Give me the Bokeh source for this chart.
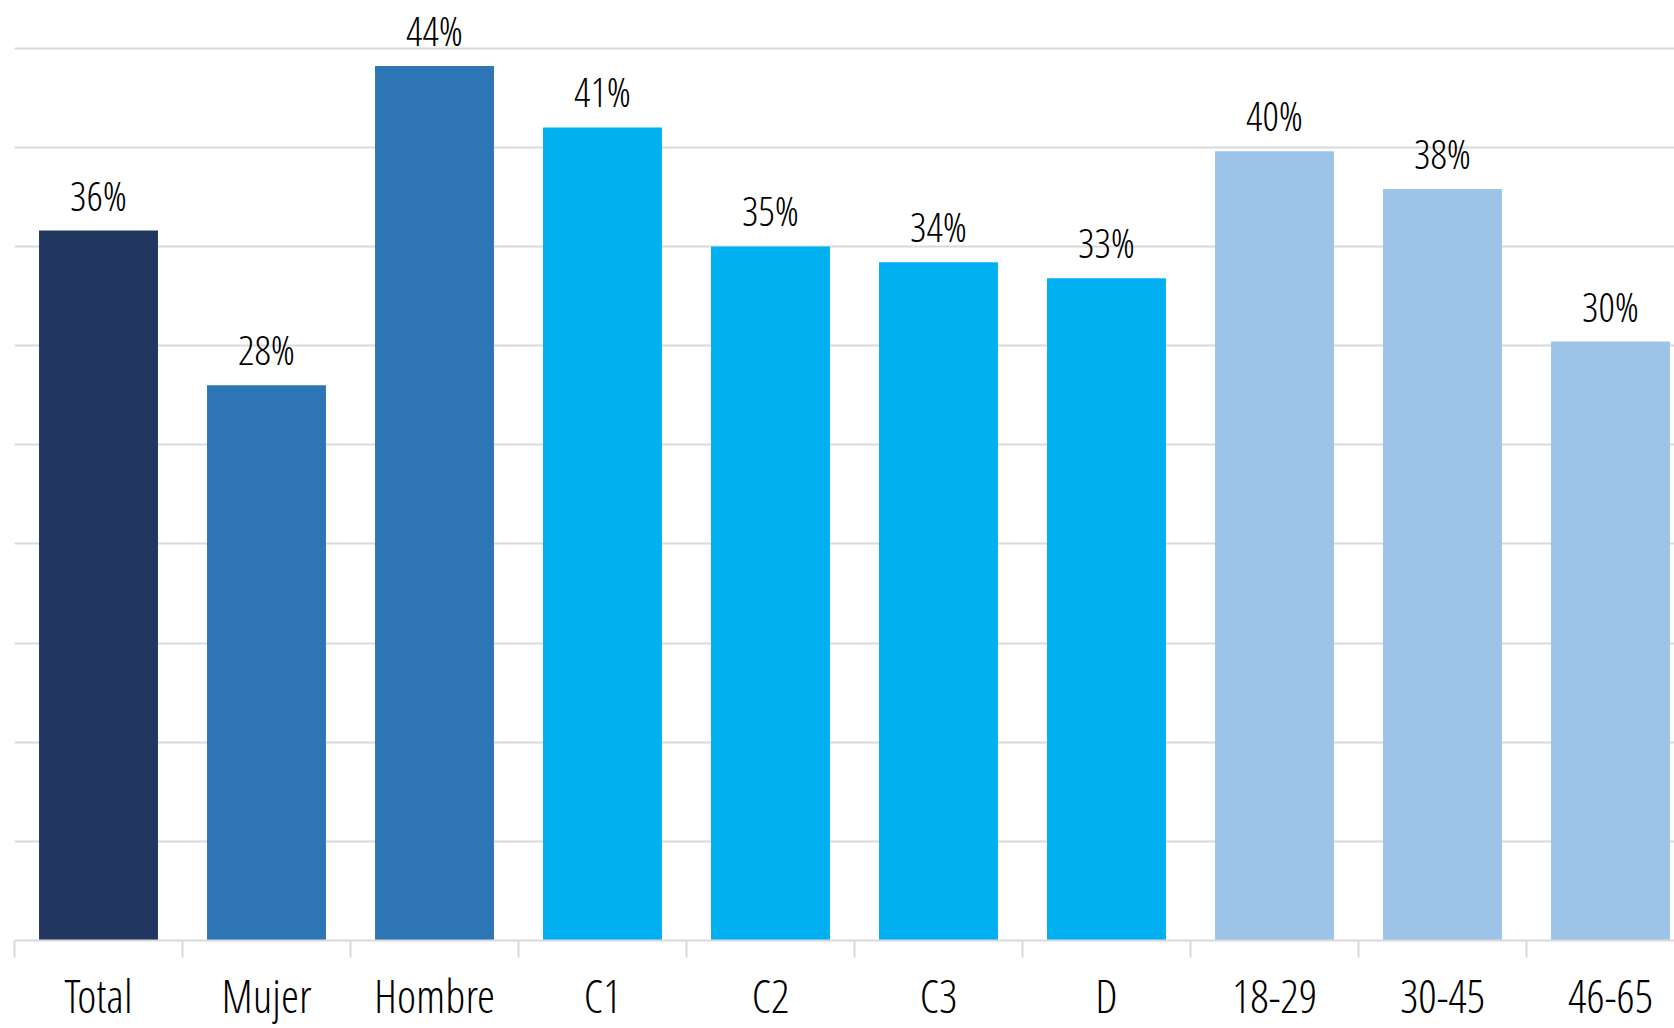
import numpy as np
from bokeh.plotting import figure
from bokeh.models import ColumnDataSource, Range1d, FixedTicker, LabelSet, LinearAxis, Grid
from bokeh.core.properties import value
from bokeh.embed import file_html
from bokeh.resources import INLINE

categories = ["Total", "Mujer", "Hombre", "C1", "C2", "C3", "D", "18-29", "30-45", "46-65"]
values = [35.8, 28.0, 44.1, 41.0, 35.0, 34.2, 33.4, 39.8, 37.9, 30.2]
labels = [f"{round(v)}%" for v in values]
colors = ["#21375F", "#2E75B6", "#2E75B6", "#00B0F0", "#00B0F0", "#00B0F0", "#00B0F0",
          "#9DC3E6", "#9DC3E6", "#9DC3E6"]
grid_ticks = [0, 5, 10, 15, 20, 25, 30, 35, 40, 45]

FONT = "'Open Sans Condensed Light', 'Roboto Condensed Light', sans-serif"

n = len(categories)
centers = list(np.arange(n) + 0.5)
bounds = list(range(n + 1))

src = ColumnDataSource(dict(x=centers, top=values, label=labels, color=colors))

W, H = 1674, 1028
p = figure(width=W, height=H, output_backend="svg", toolbar_location=None,
           x_range=Range1d(0, 9.881), y_range=Range1d(0, 47.4),
           x_axis_type=None, y_axis_type=None,
           min_border_left=14, min_border_right=0, min_border_top=0, min_border_bottom=86)
p.outline_line_color = None
p.background_fill_color = "white"
p.border_fill_color = "white"

grid = Grid(dimension=1, ticker=FixedTicker(ticks=grid_ticks),
            grid_line_color="#D9D9D9", grid_line_width=2)
p.add_layout(grid)

p.vbar(x="x", top="top", width=0.708, bottom=0, color="color", source=src, line_color=None)

xaxis = LinearAxis(ticker=FixedTicker(ticks=centers, minor_ticks=bounds))
xaxis.major_label_overrides = {c: cat for c, cat in zip(centers, categories)}
xaxis.major_tick_out = 0
xaxis.major_tick_in = 0
xaxis.minor_tick_out = 17
xaxis.minor_tick_in = 0
xaxis.minor_tick_line_color = "#D9D9D9"
xaxis.minor_tick_line_width = 2
xaxis.axis_line_color = "#D9D9D9"
xaxis.axis_line_width = 2
xaxis.major_label_text_font = FONT
xaxis.major_label_text_font_size = "46px"
xaxis.major_label_text_color = "#000000"
xaxis.major_label_standoff = 6
p.add_layout(xaxis, "below")

lbl = LabelSet(x="x", y="top", text="label", source=src, y_offset=20,
               text_align="center", text_baseline="alphabetic",
               text_font=value(FONT), text_font_size="41px", text_color="#000000")
p.add_layout(lbl)

open("out.html", "w").write(file_html(p, INLINE))
